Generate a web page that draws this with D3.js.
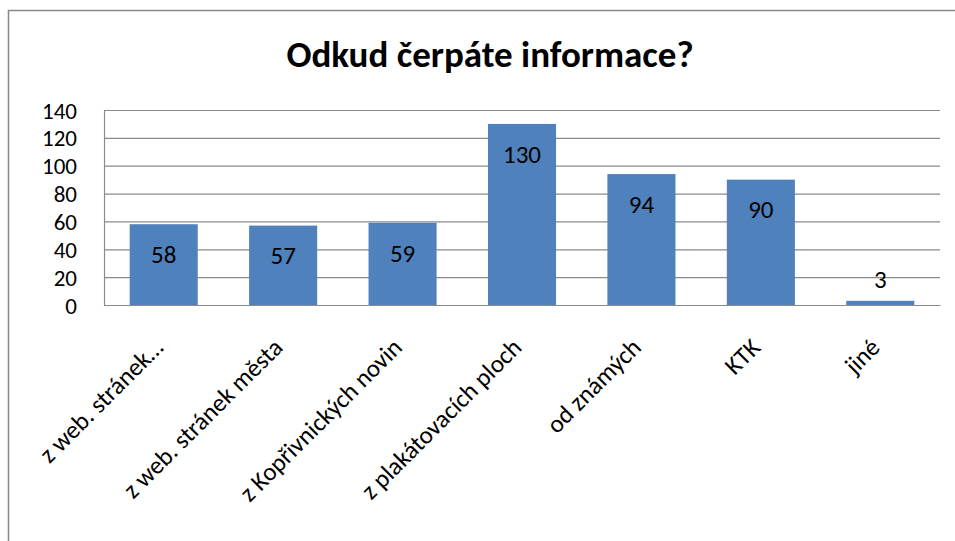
<!DOCTYPE html>
<html>
<head>
<meta charset="utf-8">
<script src="https://cdn.jsdelivr.net/npm/d3@7"></script>
<style>
    body { margin: 0; background: #fff; }
    svg text { font-family: Carlito, "Open Sans", "Noto Sans", sans-serif; fill: #000; }
</style>
</head>
<body>
<svg id="chart" width="955" height="541"></svg>
<script>
var categories = ["z web. stránek…", "z web. stránek města", "z Kopřivnických novin",
    "z plakátovacích ploch", "od známých", "KTK", "jiné"];
var values = [58, 57, 59, 130, 94, 90, 3];
var yTicks = [0, 20, 40, 60, 80, 100, 120, 140];

(function () {
    "use strict";

    var svg = d3.select("#chart");
    var left = 104, right = 940, top = 110, bottom = 305;

    // outer chart frame
    svg.append("rect")
        .attr("x", 8.5).attr("y", 10.5)
        .attr("width", 960).attr("height", 545)
        .attr("fill", "none").attr("stroke", "#888").attr("stroke-width", 1.5);

    svg.append("text")
        .attr("x", 490).attr("y", 67)
        .attr("text-anchor", "middle")
        .style("font-size", "37px").style("font-weight", "bold")
        .text("Odkud čerpáte informace?");

    var x = d3.scaleBand().domain(categories).range([left, right]).paddingInner(0.43).paddingOuter(0.215);
    var y = d3.scaleLinear().domain([0, 140]).range([bottom, top]);

    // gridlines
    svg.append("g").selectAll("line")
        .data(yTicks)
        .enter().append("line")
        .attr("x1", left).attr("x2", right)
        .attr("y1", function (d) { return y(d) + 0.5; })
        .attr("y2", function (d) { return y(d) + 0.5; })
        .attr("stroke", "#8a8a8a").attr("stroke-width", 1.2);

    // y axis
    var yAxis = svg.append("g")
        .attr("transform", "translate(" + left + ",0)")
        .call(d3.axisLeft(y).tickValues(yTicks).tickSize(0).tickPadding(27));
    yAxis.select(".domain").attr("stroke", "#8a8a8a").attr("stroke-width", 1.2);
    yAxis.selectAll("text").style("font-size", "23px").attr("dy", "0.35em");

    // bars
    var bar = svg.append("g").selectAll("g")
        .data(values)
        .enter().append("g");

    bar.append("rect")
        .attr("x", function (d, i) { return x(categories[i]); })
        .attr("y", function (d) { return y(d); })
        .attr("width", x.bandwidth())
        .attr("height", function (d) { return bottom - y(d); })
        .attr("fill", "#4f81bd");

    bar.append("text")
        .attr("x", function (d, i) { return x(categories[i]) + x.bandwidth() / 2; })
        .attr("y", function (d) { return d > 20 ? y(d) + 30 : y(d) - 22; })
        .attr("dy", "0.35em")
        .attr("text-anchor", "middle")
        .style("font-size", "25px")
        .text(function (d) { return d; });

    // x axis
    var xAxis = svg.append("g")
        .attr("transform", "translate(0," + bottom + ")")
        .call(d3.axisBottom(x).tickSize(0).tickPadding(0));
    xAxis.select(".domain").attr("stroke", "#8a8a8a").attr("stroke-width", 1.2);
    xAxis.selectAll("text")
        .style("font-size", "25px")
        .attr("text-anchor", "end")
        .attr("dy", 0)
        .attr("transform", "translate(1,44) rotate(-45)");
}());
</script>
</body>
</html>
